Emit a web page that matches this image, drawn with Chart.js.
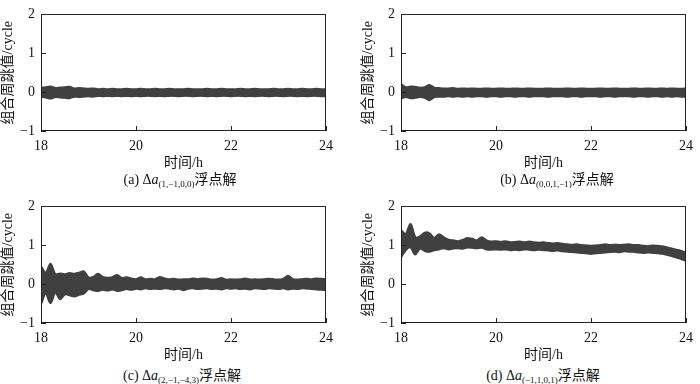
<!DOCTYPE html>
<html>
<head>
<meta charset="utf-8">
<script src="https://cdn.jsdelivr.net/npm/chart.js@4.4.1/dist/chart.umd.min.js"></script>
<style>
  body { margin: 0; background: #fff; }
  #wrap { position: relative; width: 700px; height: 384px; }
  canvas { position: absolute; }
  .cap {
    position: absolute; width: 360px; text-align: center;
    font: 14px 'Liberation Serif', 'Noto Sans CJK SC', serif; line-height: 18px; color: #111;
  }
  .cap sub { font-size: 9px; vertical-align: -3px; }
</style>
</head>
<body>
<div id="wrap">
  <canvas id="ca" width="340" height="170" style="left:0;top:0"></canvas>
  <canvas id="cb" width="340" height="170" style="left:360px;top:0"></canvas>
  <canvas id="cc" width="340" height="170" style="left:0;top:192px"></canvas>
  <canvas id="cd" width="340" height="170" style="left:360px;top:192px"></canvas>
  <div class="cap" style="left:0;top:171px">(a) Δ<i>a</i><sub>(1,−1,0,0)</sub>浮点解</div>
  <div class="cap" style="left:377px;top:171px">(b) Δ<i>a</i><sub>(0,0,1,−1)</sub>浮点解</div>
  <div class="cap" style="left:2px;top:367px">(c) Δ<i>a</i><sub>(2,−1,−4,3)</sub>浮点解</div>
  <div class="cap" style="left:363px;top:367px">(d) Δ<i>a</i><sub>(−1,1,0,1)</sub>浮点解</div>
</div>
<script>
// time in hours
var hours = [18.0,18.1,18.2,18.3,18.4,18.5,18.6,18.7,18.8,18.9,
  19.0,19.1,19.2,19.3,19.4,19.5,19.6,19.7,19.8,19.9,
  20.0,20.1,20.2,20.3,20.4,20.5,20.6,20.7,20.8,20.9,
  21.0,21.1,21.2,21.3,21.4,21.5,21.6,21.7,21.8,21.9,
  22.0,22.1,22.2,22.3,22.4,22.5,22.6,22.7,22.8,22.9,
  23.0,23.1,23.2,23.3,23.4,23.5,23.6,23.7,23.8,23.9,24.0]

// band envelopes (upper / lower), cycles
var aUpper = [0.10,0.12,0.14,0.10,0.11,0.12,0.13,0.09,0.10,0.09,
  0.08,0.09,0.07,0.08,0.07,0.08,0.07,0.07,0.08,0.07,
  0.07,0.08,0.07,0.07,0.08,0.07,0.07,0.08,0.07,0.07,
  0.07,0.08,0.07,0.07,0.07,0.08,0.07,0.07,0.08,0.07,
  0.07,0.07,0.08,0.07,0.07,0.08,0.07,0.07,0.07,0.08,
  0.07,0.07,0.08,0.07,0.07,0.08,0.07,0.07,0.08,0.07,0.07]
var aLower = [-0.11,-0.13,-0.16,-0.12,-0.13,-0.14,-0.15,-0.11,-0.12,-0.11,
  -0.10,-0.11,-0.09,-0.10,-0.09,-0.10,-0.09,-0.10,-0.09,-0.10,
  -0.09,-0.10,-0.09,-0.09,-0.10,-0.09,-0.10,-0.09,-0.09,-0.10,
  -0.09,-0.09,-0.10,-0.09,-0.09,-0.10,-0.09,-0.10,-0.09,-0.09,
  -0.10,-0.09,-0.09,-0.10,-0.09,-0.10,-0.09,-0.09,-0.10,-0.09,
  -0.09,-0.10,-0.09,-0.09,-0.10,-0.09,-0.10,-0.09,-0.09,-0.10,-0.10]
var bUpper = [0.20,0.12,0.14,0.13,0.11,0.12,0.18,0.11,0.10,0.09,
  0.09,0.10,0.08,0.09,0.08,0.09,0.08,0.08,0.09,0.08,
  0.08,0.09,0.08,0.08,0.09,0.08,0.08,0.09,0.08,0.08,
  0.08,0.09,0.08,0.08,0.08,0.09,0.08,0.08,0.09,0.08,
  0.08,0.08,0.09,0.08,0.08,0.09,0.08,0.08,0.08,0.09,
  0.08,0.08,0.09,0.08,0.08,0.09,0.08,0.09,0.08,0.08,0.09]
var bLower = [-0.16,-0.12,-0.15,-0.14,-0.12,-0.14,-0.20,-0.12,-0.11,-0.11,
  -0.10,-0.11,-0.10,-0.11,-0.10,-0.11,-0.10,-0.10,-0.11,-0.10,
  -0.10,-0.11,-0.10,-0.10,-0.11,-0.10,-0.10,-0.11,-0.10,-0.10,
  -0.10,-0.11,-0.10,-0.10,-0.10,-0.11,-0.10,-0.10,-0.11,-0.10,
  -0.10,-0.10,-0.11,-0.10,-0.10,-0.11,-0.10,-0.10,-0.10,-0.11,
  -0.10,-0.10,-0.11,-0.10,-0.10,-0.11,-0.10,-0.11,-0.10,-0.11,-0.12]
var cUpper = [0.45,0.28,0.52,0.25,0.27,0.25,0.28,0.26,0.29,0.32,
  0.17,0.18,0.26,0.18,0.16,0.17,0.23,0.15,0.17,0.14,
  0.12,0.17,0.12,0.13,0.12,0.18,0.14,0.12,0.13,0.11,
  0.12,0.12,0.14,0.12,0.14,0.13,0.11,0.12,0.15,0.11,
  0.12,0.11,0.12,0.14,0.11,0.12,0.11,0.12,0.13,0.12,
  0.11,0.13,0.21,0.12,0.11,0.12,0.13,0.12,0.14,0.13,0.12]
var cLower = [-0.50,-0.22,-0.48,-0.20,-0.38,-0.26,-0.28,-0.31,-0.27,-0.24,
  -0.12,-0.15,-0.17,-0.14,-0.16,-0.13,-0.17,-0.15,-0.12,-0.14,
  -0.11,-0.13,-0.10,-0.12,-0.11,-0.12,-0.10,-0.11,-0.13,-0.11,
  -0.15,-0.11,-0.10,-0.12,-0.11,-0.10,-0.12,-0.11,-0.13,-0.10,
  -0.11,-0.10,-0.12,-0.11,-0.13,-0.10,-0.11,-0.12,-0.10,-0.11,
  -0.12,-0.10,-0.13,-0.11,-0.12,-0.10,-0.11,-0.12,-0.13,-0.14,-0.15]
var dUpper = [1.38,1.28,1.54,1.20,1.22,1.32,1.30,1.18,1.28,1.20,
  1.14,1.12,1.10,1.13,1.18,1.16,1.12,1.20,1.12,1.09,
  1.10,1.08,1.10,1.07,1.08,1.09,1.07,1.09,1.07,1.06,
  1.07,1.05,1.04,1.05,1.03,1.02,1.01,1.02,1.00,0.99,
  0.98,0.99,1.00,1.02,1.00,1.01,1.00,1.01,1.02,1.00,
  1.00,0.98,0.97,0.99,0.98,0.97,0.94,0.91,0.88,0.85,0.80]
var dLower = [0.70,0.88,0.95,0.77,0.92,0.86,0.84,0.88,0.90,0.93,
  0.90,0.92,0.93,0.92,0.95,0.94,0.93,0.94,0.90,0.89,
  0.90,0.89,0.90,0.88,0.89,0.88,0.90,0.89,0.88,0.89,
  0.88,0.87,0.86,0.87,0.85,0.84,0.83,0.82,0.81,0.80,
  0.78,0.80,0.81,0.82,0.83,0.84,0.83,0.85,0.84,0.84,
  0.82,0.81,0.82,0.81,0.80,0.79,0.76,0.73,0.69,0.65,0.60]

var xTicks = [18, 20, 22, 24]
var yTicks = [-1, 0, 1, 2]

var bandColor = '#404040'
var fontFamily = "'Liberation Serif', 'Noto Sans CJK SC', serif"

// frame box and inward tick marks
var framePlugin = {
    id: 'frame',
    afterDraw: function (chart) {
        var ctx = chart.ctx
        var a = chart.chartArea
        var xs = chart.scales.x, ys = chart.scales.y
        ctx.save()
        ctx.strokeStyle = '#222'
        ctx.lineWidth = 1
        ctx.strokeRect(Math.round(a.left) + 0.5, Math.round(a.top) + 0.5,
            Math.round(a.right - a.left) - 1, Math.round(a.bottom - a.top) - 1)
        ctx.beginPath()
        xTicks.forEach(function (t) {
            var px = Math.round(xs.getPixelForValue(t)) + 0.5
            ctx.moveTo(px, a.bottom)
            ctx.lineTo(px, a.bottom - 5)
        })
        yTicks.forEach(function (t) {
            var py = Math.round(ys.getPixelForValue(t)) + 0.5
            ctx.moveTo(a.left, py)
            ctx.lineTo(a.left + 5, py)
        })
        ctx.stroke()
        ctx.restore()
    }
}

function makeChart(id, upper, lower) {
    var up = hours.map(function (h, i) { return { x: h, y: upper[i] } })
    var lo = hours.map(function (h, i) { return { x: h, y: lower[i] } })
    return new Chart(document.getElementById(id), {
        type: 'line',
        data: {
            datasets: [{
                data: up,
                borderColor: bandColor,
                backgroundColor: bandColor,
                borderWidth: 2.5,
                pointRadius: 0,
                tension: 0.3,
                fill: '+1'
            }, {
                data: lo,
                borderColor: bandColor,
                borderWidth: 2.5,
                pointRadius: 0,
                tension: 0.3,
                fill: false
            }]
        },
        options: {
            responsive: false,
            animation: false,
            layout: { padding: { top: 7, right: 9, left: 0, bottom: 0 } },
            plugins: { legend: { display: false }, tooltip: { enabled: false } },
            scales: {
                x: {
                    type: 'linear',
                    min: 18, max: 24,
                    afterFit: function (s) { s.height = 39 },
                    afterBuildTicks: function (s) { s.ticks = xTicks.map(function (v) { return { value: v } }) },
                    ticks: { color: '#111', padding: 7, maxRotation: 0, font: { family: fontFamily, size: 14 } },
                    grid: { display: false, drawTicks: false },
                    border: { display: false },
                    title: {
                        display: true, text: '时间/h', color: '#111',
                        padding: { top: 0, bottom: 0 },
                        font: { family: fontFamily, size: 14, lineHeight: 1 }
                    }
                },
                y: {
                    min: -1, max: 2,
                    afterFit: function (s) { s.width = 41 },
                    afterBuildTicks: function (s) { s.ticks = yTicks.map(function (v) { return { value: v } }) },
                    ticks: {
                        color: '#111', padding: 6,
                        font: { family: fontFamily, size: 14 },
                        callback: function (v) { return v < 0 ? '\u2212' + Math.abs(v) : String(v) }
                    },
                    grid: { display: false, drawTicks: false },
                    border: { display: false },
                    title: {
                        display: true, text: '组合周跳值/cycle', color: '#111',
                        padding: { top: 1, bottom: 0 },
                        font: { family: fontFamily, size: 14, lineHeight: 1 }
                    }
                }
            }
        },
        plugins: [framePlugin]
    })
}

makeChart('ca', aUpper, aLower)
makeChart('cb', bUpper, bLower)
makeChart('cc', cUpper, cLower)
makeChart('cd', dUpper, dLower)
</script>
</body>
</html>
